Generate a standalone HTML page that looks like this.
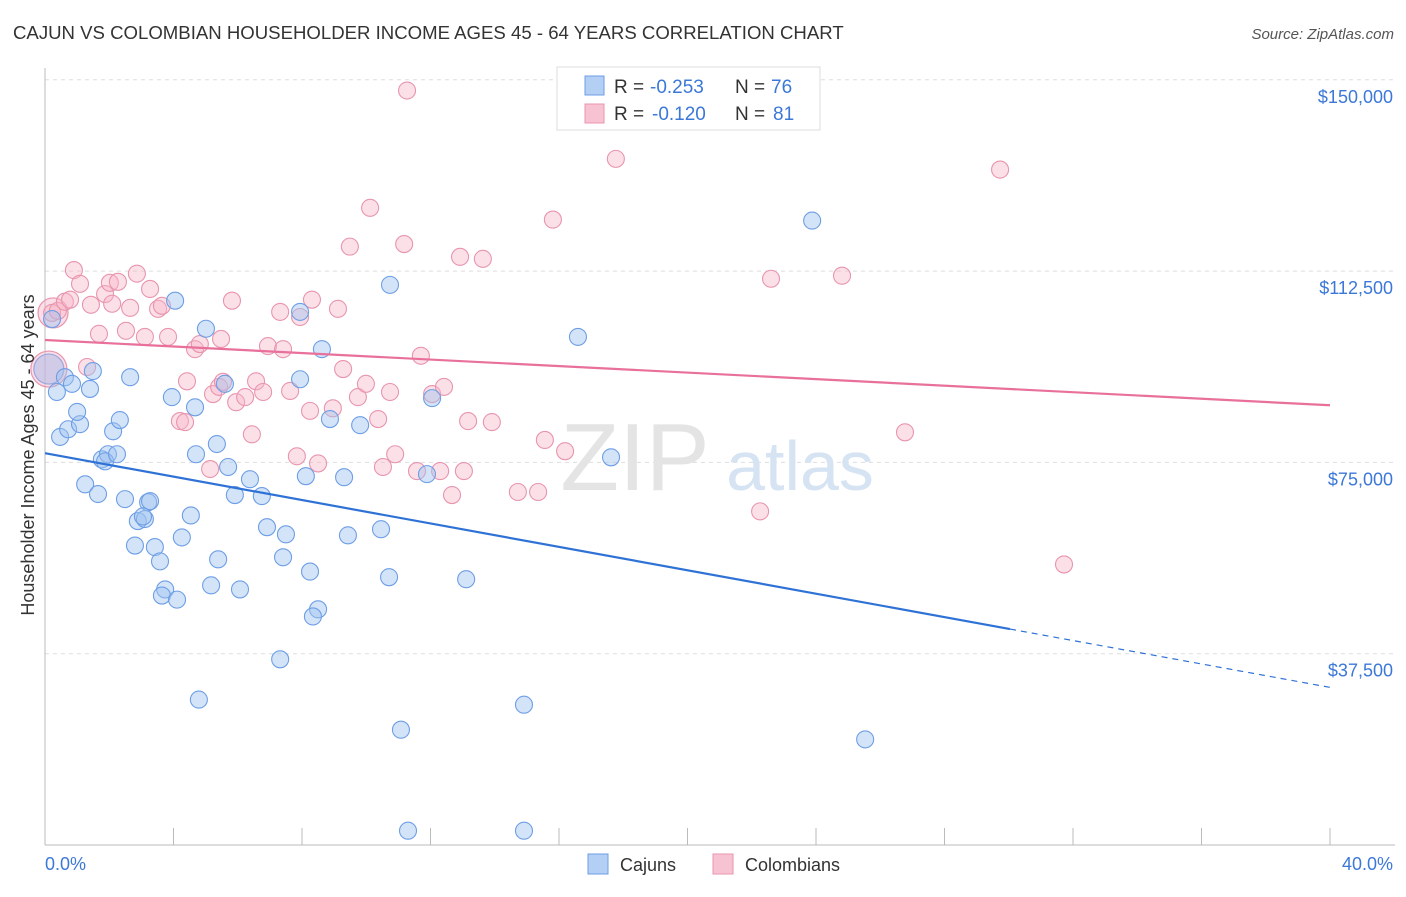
<!DOCTYPE html>
<html><head><meta charset="utf-8"><style>
body{margin:0;background:#fff;font-family:"Liberation Sans",sans-serif;}
svg text{font-family:"Liberation Sans",sans-serif;}
</style></head><body>
<svg id="chart" width="1406" height="892" xmlns="http://www.w3.org/2000/svg">
<text x="13" y="39" font-size="18.6" fill="#333">CAJUN VS COLOMBIAN HOUSEHOLDER INCOME AGES 45 - 64 YEARS CORRELATION CHART</text>
<text x="1394" y="39" font-size="15" fill="#555" font-style="italic" text-anchor="end">Source: ZipAtlas.com</text>
<g id="grid"></g>
<text x="635" y="490" font-size="96" fill="#e4e4e4" font-family="Liberation Serif" text-anchor="middle">ZIP</text>
<text x="800" y="490" font-size="70" fill="#d6e3f3" text-anchor="middle">atlas</text>
<g id="pts"></g>
<g id="lines"></g>
<text transform="translate(34,455) rotate(-90)" font-size="18" fill="#333" text-anchor="middle">Householder Income Ages 45 - 64 years</text>
<text x="45" y="870" font-size="18" fill="#3c78d8">0.0%</text>
<text x="1393" y="870" font-size="18" fill="#3c78d8" text-anchor="end">40.0%</text>
<g>
<rect x="557" y="67" width="263" height="63" fill="#fff" stroke="#ddd"/>
<rect x="585" y="76" width="19" height="19" fill="#b4cff4" stroke="#6d9ee6"/>
<text y="93" font-size="19" fill="#333"><tspan x="614">R =</tspan><tspan x="650" fill="#3c78d8">-0.253</tspan><tspan x="735">N =</tspan><tspan x="771" fill="#3c78d8">76</tspan></text>
<rect x="585" y="104" width="19" height="19" fill="#f7c2d2" stroke="#e895ae"/>
<text y="120" font-size="19" fill="#333"><tspan x="614">R =</tspan><tspan x="652" fill="#3c78d8">-0.120</tspan><tspan x="735">N =</tspan><tspan x="773" fill="#3c78d8">81</tspan></text>
</g>
<g>
<rect x="588" y="854" width="20" height="20" fill="#b4cff4" stroke="#6d9ee6"/>
<text x="620" y="871" font-size="18" fill="#333">Cajuns</text>
<rect x="713" y="854" width="20" height="20" fill="#f7c2d2" stroke="#e895ae"/>
<text x="745" y="871" font-size="18" fill="#333">Colombians</text>
</g>
</svg>
<script>
const yTicks=[37.5,75,112.5,150];
const yTickLabels=["$37,500","$75,000","$112,500","$150,000"];
const xTicks=[0,4,8,12,16,20,24,28,32,36,40];
const cajunX=[0.22,0.37,0.47,0.62,0.84,0.72,1.09,1.00,1.40,1.49,1.25,1.65,1.77,1.96,1.87,2.24,2.12,2.33,2.65,2.49,3.21,2.89,3.11,3.05,2.80,3.42,3.58,3.27,3.74,3.64,4.11,4.26,4.54,4.05,3.95,4.70,5.01,4.67,5.35,5.39,5.17,5.60,5.70,5.91,6.07,6.38,6.75,6.91,7.50,7.41,8.25,8.50,8.34,7.32,4.79,7.94,7.94,8.12,8.62,8.87,9.31,9.43,9.81,10.46,10.71,10.74,12.05,11.89,13.11,11.08,11.30,14.91,14.91,16.59,17.62,23.88,25.53];
const cajunY=[103.1,88.8,80.0,91.7,90.4,81.5,82.5,84.9,89.4,92.9,70.7,68.8,75.6,76.6,75.2,76.6,81.1,83.3,91.7,67.8,67.2,63.5,63.9,64.4,58.7,58.4,55.6,67.4,50.1,48.9,48.1,60.3,64.6,106.7,87.8,76.6,101.2,85.8,78.6,56.0,50.9,90.4,74.1,68.6,50.1,71.7,68.4,62.3,60.9,56.4,53.6,46.2,44.8,36.4,28.5,104.5,91.3,72.3,97.2,83.5,72.1,60.7,82.3,61.9,52.5,109.8,87.6,72.7,52.1,22.6,2.8,27.5,2.8,99.6,76.0,122.4,20.7];
const colX=[0.22,0.40,0.62,0.78,0.90,1.09,1.43,1.68,1.87,2.02,2.27,2.09,2.52,2.86,2.65,3.27,3.11,3.52,3.64,3.83,1.31,4.67,4.82,4.42,5.23,5.42,5.54,5.48,5.82,5.95,6.23,6.44,6.57,6.79,6.94,7.32,7.41,7.63,7.84,7.94,8.31,8.50,8.25,8.96,9.12,9.28,9.49,9.74,9.99,10.12,10.37,10.52,10.74,10.90,11.18,11.27,11.58,11.70,12.05,12.42,12.30,12.67,12.92,13.04,13.17,13.63,13.91,14.72,15.35,15.56,15.81,16.19,17.77,22.26,22.60,24.81,26.77,29.73,31.72,5.14,4.20,4.36];
const colY=[104.3,104.7,106.5,106.9,112.7,110.0,105.9,100.2,108.0,110.2,110.4,106.1,100.8,112.0,105.3,109.0,99.6,105.1,105.7,99.6,93.7,97.2,98.2,90.9,88.4,89.8,90.8,99.2,106.7,86.8,87.8,80.5,90.9,88.8,97.8,104.5,97.2,89.0,76.2,103.5,106.9,74.8,85.1,85.6,105.1,93.3,117.3,87.8,90.4,124.9,83.5,74.1,88.8,76.6,117.8,147.9,73.3,95.9,88.4,89.8,73.3,68.6,115.3,73.3,83.1,114.9,82.9,69.2,69.2,79.4,122.6,77.2,134.5,65.4,111.0,111.6,80.9,132.4,55.0,73.7,83.1,82.9];
const cajunTrend=[76.8,30.9];
const colTrend=[99.0,86.2];
const cajunSolidEnd=30.04;

const NS="http://www.w3.org/2000/svg";
const X0=45,X1=1330,YB=845;
function xs(v){return X0+v/40*(X1-X0);}
function ys(v){return YB-v*(191.3/37.5);}
function mk(t,a,p){const e=document.createElementNS(NS,t);for(const k in a)e.setAttribute(k,a[k]);p.appendChild(e);return e;}
const grid=document.getElementById('grid');
yTicks.forEach((t,i)=>{
  const l=mk('line',{x1:X0,x2:1395,y1:ys(t),y2:ys(t),stroke:'#ddd','stroke-dasharray':'4,4'},grid);
  
  
  const tx=mk('text',{x:1393,y:ys(t)+23,'font-size':18,fill:'#3c78d8','text-anchor':'end'},grid);
  tx.textContent=yTickLabels[i];
  
  
});
const ax=mk('line',{x1:X0,x2:X0,y1:68,y2:YB,stroke:'#bbb'},grid);


const bx=mk('line',{x1:X0,x2:1395,y1:YB,y2:YB,stroke:'#bbb'},grid);


xTicks.forEach(t=>{
  const l=mk('line',{x1:xs(t),x2:xs(t),y1:828,y2:YB,stroke:'#bbb'},grid);
  
  
});
const pts=document.getElementById('pts');
function big(x,y,r,f,s){const c=mk('circle',{cx:xs(x),cy:ys(y),r:r,fill:f,stroke:s,'stroke-width':1.2},pts);

}
big(0.25,104.3,15,'rgba(247,182,201,0.45)','#e895ae');
big(0.12,93.3,18,'rgba(247,182,201,0.45)','#e895ae');
big(0.12,93.3,15,'rgba(160,180,230,0.45)','#9aa8dd');
colX.forEach((x,i)=>{const c=mk('circle',{cx:xs(x),cy:ys(colY[i]),r:8.5,fill:'rgba(247,182,201,0.42)',stroke:'#e895ae','stroke-width':1.1},pts);

});
cajunX.forEach((x,i)=>{const c=mk('circle',{cx:xs(x),cy:ys(cajunY[i]),r:8.5,fill:'rgba(160,196,240,0.45)',stroke:'#6d9ee6','stroke-width':1.1},pts);

});
const lines=document.getElementById('lines');
function tr(a,x){return a[0]+(a[1]-a[0])*x/40;}
let l1=mk('line',{x1:xs(0),y1:ys(colTrend[0]),x2:xs(40),y2:ys(colTrend[1]),stroke:'#e8709a','stroke-width':2.2},lines);


let l2=mk('line',{x1:xs(0),y1:ys(cajunTrend[0]),x2:xs(cajunSolidEnd),y2:ys(tr(cajunTrend,cajunSolidEnd)),stroke:'#2f72d6','stroke-width':2.2},lines);


let l3=mk('line',{x1:xs(cajunSolidEnd),y1:ys(tr(cajunTrend,cajunSolidEnd)),x2:xs(40),y2:ys(cajunTrend[1]),stroke:'#2f72d6','stroke-width':1.2,'stroke-dasharray':'6,5'},lines);


</script>
</body></html>
